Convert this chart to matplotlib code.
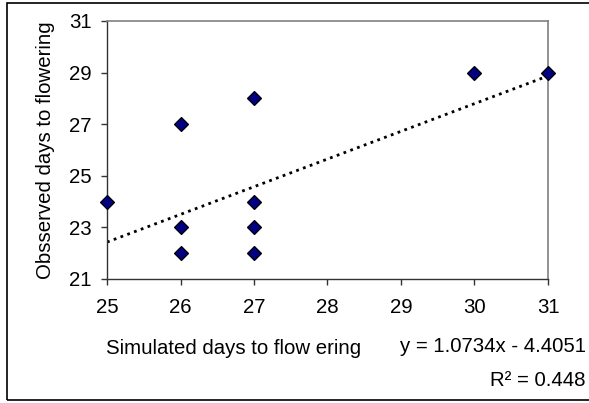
import numpy as np
import matplotlib.pyplot as plt
from matplotlib.patches import Rectangle

plt.rcParams['font.family'] = ['Liberation Sans', 'DejaVu Sans']

# simulated vs observed days to flowering
simulated = [25, 26, 26, 26, 27, 27, 27, 27, 30, 31]
observed = [24, 27, 23, 22, 28, 24, 23, 22, 29, 29]

# linear trend line as reported in the chart
slope = 1.0734
intercept = -4.4051
r_squared = 0.448

fs = 14.7

fig = plt.figure(figsize=(5.89, 4.03), dpi=100)
ax = fig.add_axes([107/589, 124/403, 441/589, 258/403])

# outer chart border
fig.patches.append(Rectangle((7/589, 3/403), 1.0, 397/403, transform=fig.transFigure,
                             fill=False, edgecolor='black', linewidth=1.2))

xt = np.array([min(simulated), max(simulated)])
ax.plot(xt, slope * xt + intercept, color='black', linestyle=(0, (1, 1.6)),
        linewidth=2.0, zorder=2)
ax.plot(simulated, observed, linestyle='none', marker='D', markersize=7,
        markerfacecolor='#000080', markeredgecolor='black', markeredgewidth=0.9,
        zorder=3, clip_on=False)

ax.set_xlim(25, 31)
ax.set_ylim(21, 31)
ax.set_xticks(range(25, 32))
ax.set_yticks(range(21, 32, 2))

for s in ['top', 'right']:
    ax.spines[s].set_color('#808080')
    ax.spines[s].set_linewidth(1.2)
for s in ['left', 'bottom']:
    ax.spines[s].set_color('#333333')
    ax.spines[s].set_linewidth(1.0)

ax.tick_params(direction='out', length=4, width=1, color='#333333',
               labelsize=fs)
ax.tick_params(axis='x', pad=10)
ax.tick_params(axis='y', pad=7)

ax.set_ylabel('Obsserved days to flowering', fontsize=fs, labelpad=10)

fig.text(234/589, 1 - 348/403, 'Simulated days to flow ering', fontsize=fs,
         ha='center', va='center')
fig.text(586/589, 1 - 347/403, 'y = 1.0734x - 4.4051', fontsize=fs,
         ha='right', va='center')
fig.text(586/589, 1 - 380/403, 'R\u00b2 = 0.448', fontsize=fs,
         ha='right', va='center')

fig.savefig('out.png', dpi=100)
